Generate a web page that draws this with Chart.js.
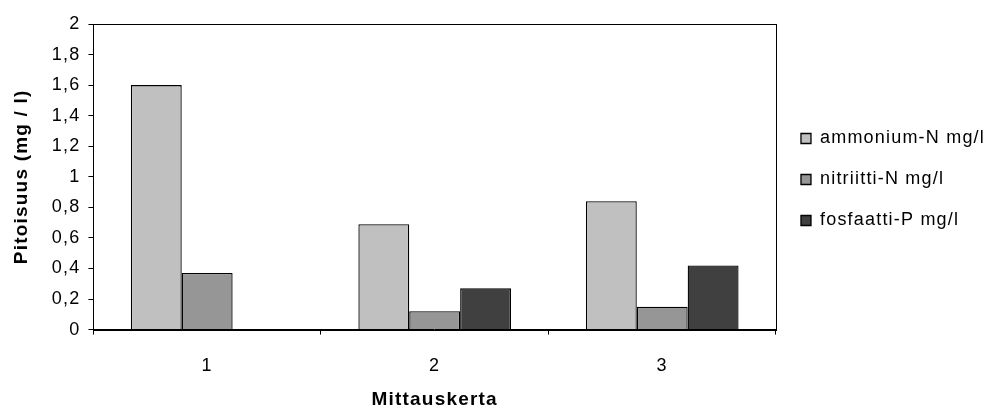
<!DOCTYPE html>
<html>
<head>
<meta charset="utf-8">
<title>Pitoisuus</title>
<script src="https://cdn.jsdelivr.net/npm/chart.js@4/dist/chart.umd.min.js"></script>
<style>
  html, body { margin: 0; padding: 0; background: #ffffff; }
  #wrap { width: 995px; height: 414px; }
</style>
</head>
<body>
<div id="wrap"><canvas id="chart"></canvas></div>
<script>
// Measurement rounds and nutrient concentrations (mg/l)
const categories = ['1', '2', '3'];
const ammonium = [1.6, 0.69, 0.84];
const nitriitti = [0.37, 0.12, 0.15];
const fosfaatti = [0, 0.27, 0.42];
const seriesNames = ['ammonium-N mg/l', 'nitriitti-N mg/l', 'fosfaatti-P mg/l'];
const seriesColors = ['#c0c0c0', '#969696', '#404040'];
const yTickLabels = ['0', '0,2', '0,4', '0,6', '0,8', '1', '1,2', '1,4', '1,6', '1,8', '2'];

Chart.defaults.font.family = '"Liberation Sans", Arial, sans-serif';
Chart.defaults.font.size = 18;
Chart.defaults.color = '#000000';

// Wide letter spacing for all chart text
const spacing = {
  id: 'spacing',
  beforeLayout(chart) { chart.ctx.letterSpacing = '1.2px'; },
  beforeDraw(chart) { chart.ctx.letterSpacing = '1.2px'; }
};

// Legend column sits a little above the middle and slightly further right
const legendShift = {
  id: 'legendShift',
  afterLayout(chart) {
    const lg = chart.legend;
    if (lg) {
      lg.top -= 38; lg.bottom -= 38;
      lg.left += 2; lg.right += 2;
    }
  }
};

// Closed frame round the plot area
const frame = {
  id: 'frame',
  afterDraw(chart) {
    const { ctx, chartArea: a } = chart;
    ctx.save();
    ctx.strokeStyle = '#000000';
    ctx.lineWidth = 1;
    ctx.strokeRect(Math.round(a.left) + 0.5, Math.round(a.top) + 0.5,
      Math.round(a.right - a.left), Math.round(a.bottom - a.top));
    ctx.restore();
  }
};

const seriesValues = [ammonium, nitriitti, fosfaatti];

new Chart(document.getElementById('chart'), {
  type: 'bar',
  data: {
    labels: categories,
    datasets: seriesValues.map((vals, i) => ({
      label: seriesNames[i],
      data: vals,
      backgroundColor: seriesColors[i],
      borderColor: '#000000',
      borderWidth: 1.3,
      categoryPercentage: 0.671,
      barPercentage: 1
    }))
  },
  options: {
    responsive: true,
    maintainAspectRatio: false,
    animation: false,
    devicePixelRatio: 1,
    layout: { padding: { top: 24, left: 6, right: 2, bottom: 3 } },
    plugins: {
      tooltip: { enabled: false },
      legend: {
        position: 'right',
        labels: {
          boxWidth: 10,
          boxHeight: 10,
          padding: 23,
          font: { size: 18 },
          color: '#000000'
        }
      }
    },
    scales: {
      x: {
        offset: true,
        grid: { offset: true, drawOnChartArea: false, drawTicks: true, tickLength: 5, color: '#000000' },
        border: { display: true, color: '#000000', width: 1 },
        ticks: { padding: 21, font: { size: 18 }, color: '#000000' },
        title: {
          display: true,
          text: 'Mittauskerta',
          font: { size: 19, weight: 'bold' },
          color: '#000000',
          padding: { top: -10, bottom: 0 }
        }
      },
      y: {
        min: 0,
        max: 2,
        grid: { drawOnChartArea: false, drawTicks: true, tickLength: 5, color: '#000000' },
        border: { display: true, color: '#000000', width: 1 },
        ticks: {
          stepSize: 0.2,
          padding: 8,
          font: { size: 18 },
          color: '#000000',
          callback: (value, index) => yTickLabels[index]
        },
        title: {
          display: true,
          text: 'Pitoisuus (mg / l)',
          font: { size: 19, weight: 'bold' },
          color: '#000000',
          padding: { top: 4, bottom: 11 }
        }
      }
    }
  },
  plugins: [spacing, legendShift, frame]
});
</script>
</body>
</html>
